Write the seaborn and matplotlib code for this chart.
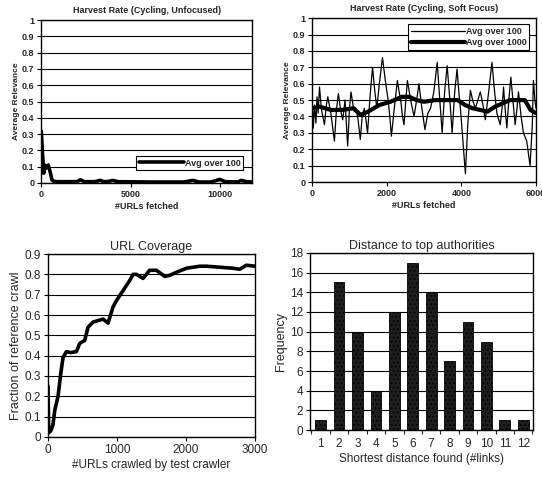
import numpy as np
import pandas as pd
import matplotlib
matplotlib.use("Agg")
import matplotlib.pyplot as plt
import seaborn as sns
from matplotlib.ticker import MultipleLocator, FixedLocator, FuncFormatter

sns.set_style("white")
plt.rcParams['font.family'] = ['Liberation Sans', 'DejaVu Sans']
plt.rcParams['hatch.color'] = '#9a9a9a'
plt.rcParams['hatch.linewidth'] = 0.7

# ---- data: top-left (Cycling, Unfocused) ----
unf_x = [0, 30, 60, 100, 140, 170, 200, 260, 330, 400, 470, 520, 600, 700, 900, 1500, 2000, 2200, 2400, 3000,
         3300, 3500, 3800, 4000, 4300, 6000, 8000, 8500, 8800, 9500, 10000, 10300, 11000, 11200, 11500, 11800]
unf_y = [0.32, 0.27, 0.2, 0.14, 0.06, 0.1, 0.11, 0.09, 0.1, 0.11, 0.08, 0.06, 0.02, 0.01, 0.008, 0.008, 0.008, 0.02, 0.008, 0.008,
         0.016, 0.008, 0.01, 0.016, 0.008, 0.006, 0.006, 0.016, 0.006, 0.006, 0.022, 0.008, 0.006, 0.016, 0.008, 0.006]

# ---- data: top-right (Cycling, Soft Focus) ----
sf100_x = [0, 30, 62, 100, 130, 160, 196, 250, 329, 380, 418, 500, 596, 650, 702, 760, 818, 880, 951, 1000, 1040,
           1100, 1173, 1230, 1289, 1340, 1396, 1440, 1484, 1550, 1618, 1680, 1733, 1800, 1884, 1960, 2036, 2080,
           2124, 2200, 2284, 2330, 2373, 2420, 2462, 2510, 2551, 2640, 2729, 2800, 2862, 2940, 3022, 3100, 3173,
           3260, 3351, 3420, 3484, 3550, 3618, 3690, 3751, 3820, 3884, 3930, 3973, 4040, 4107, 4170, 4240, 4300,
           4373, 4440, 4507, 4570, 4640, 4730, 4818, 4890, 4951, 5000, 5040, 5090, 5129, 5170, 5218, 5270, 5325,
           5380, 5440, 5490, 5529, 5600, 5662, 5750, 5840, 5900, 5929, 5970, 6000]
sf100_y = [0.5, 0.33, 0.47, 0.36, 0.52, 0.42, 0.58, 0.44, 0.35, 0.47, 0.52, 0.42, 0.25, 0.44, 0.54, 0.44, 0.38, 0.5, 0.22,
           0.45, 0.55, 0.46, 0.45, 0.38, 0.26, 0.4, 0.45, 0.38, 0.3, 0.52, 0.7, 0.55, 0.45, 0.6, 0.76, 0.62, 0.5, 0.4,
           0.28, 0.45, 0.62, 0.55, 0.5, 0.4, 0.35, 0.5, 0.62, 0.5, 0.4, 0.5, 0.6, 0.45, 0.32, 0.42, 0.45,
           0.55, 0.73, 0.5, 0.3, 0.55, 0.71, 0.5, 0.3, 0.55, 0.69, 0.55, 0.45, 0.25, 0.05, 0.35, 0.56, 0.5,
           0.45, 0.5, 0.55, 0.48, 0.38, 0.55, 0.73, 0.55, 0.42, 0.38, 0.35, 0.45, 0.58, 0.45, 0.33, 0.5, 0.64,
           0.5, 0.35, 0.45, 0.55, 0.4, 0.3, 0.25, 0.1, 0.35, 0.62, 0.5, 0.45]
sf1000_x = [0, 200, 500, 800, 1100, 1300, 1500, 1800, 2100, 2400, 2600, 2800, 3000, 3300, 3600, 3900, 4100,
            4300, 4500, 4700, 4900, 5100, 5300, 5500, 5700, 5850, 6000]
sf1000_y = [0.45, 0.46, 0.44, 0.44, 0.45, 0.41, 0.43, 0.47, 0.49, 0.52, 0.52, 0.5, 0.49, 0.5, 0.5, 0.5, 0.47,
            0.45, 0.44, 0.43, 0.46, 0.48, 0.5, 0.5, 0.5, 0.44, 0.42]

# ---- data: bottom-left (URL Coverage) ----
cov_x = [0, 10, 40, 72, 97, 145, 184, 217, 266, 330, 411, 459, 531, 580, 652, 749, 797, 870, 942, 990, 1087,
         1184, 1232, 1280, 1377, 1473, 1570, 1691, 1763, 1860, 2005, 2198, 2295, 2488, 2681, 2778, 2874, 3000]
cov_y = [0.25, 0.02, 0.03, 0.06, 0.13, 0.2, 0.31, 0.39, 0.42, 0.415, 0.42, 0.46, 0.475, 0.54, 0.565, 0.575, 0.58,
         0.56, 0.64, 0.67, 0.72, 0.77, 0.8, 0.8, 0.78, 0.82, 0.82, 0.79, 0.795, 0.81, 0.83, 0.84, 0.84, 0.835,
         0.83, 0.825, 0.845, 0.84]

# ---- data: bottom-right (Distance to top authorities) ----
dist_labels = ['1', '2', '3', '4', '5', '6', '7', '8', '9', '10', '11', '12']
dist_freq = [1, 15, 10, 4, 12, 17, 14, 7, 11, 9, 1, 1]

fig = plt.figure(figsize=(5.42, 4.79), dpi=100)
ax1 = fig.add_axes([0.076, 0.618, 0.389, 0.340])
ax2 = fig.add_axes([0.576, 0.620, 0.413, 0.342])
ax3 = fig.add_axes([0.0886, 0.0877, 0.382, 0.382])
ax4 = fig.add_axes([0.572, 0.102, 0.411, 0.370])


def fmt01(v, pos):
    if abs(v) < 1e-9:
        return '0'
    if abs(v - 1) < 1e-9:
        return '1'
    return f'{v:.1f}'


def style_ax(ax, fs, bold):
    for s in ax.spines.values():
        s.set_color('black')
        s.set_linewidth(1.0)
    ax.yaxis.grid(True, color='black', linewidth=0.8)
    ax.xaxis.grid(False)
    ax.tick_params(axis='both', direction='out', length=3, width=0.8, color='black',
                   labelsize=fs, pad=2, left=True, bottom=True)
    if bold:
        for lab in ax.get_xticklabels() + ax.get_yticklabels():
            lab.set_fontweight('bold')

# top-left
sns.lineplot(x=unf_x, y=unf_y, ax=ax1, color='black', linewidth=2.6, label='Avg over 100')
ax1.set_xlim(0, 11800)
ax1.set_ylim(0, 1)
ax1.yaxis.set_major_locator(MultipleLocator(0.1))
ax1.yaxis.set_major_formatter(FuncFormatter(fmt01))
ax1.xaxis.set_major_locator(FixedLocator([0, 5000, 10000]))
ax1.set_title('Harvest Rate (Cycling, Unfocused)', fontsize=6.5, fontweight='bold', pad=5)
ax1.set_xlabel('#URLs fetched', fontsize=6.5, fontweight='bold', labelpad=2)
ax1.set_ylabel('Average Relevance', fontsize=6, fontweight='bold', labelpad=1)
style_ax(ax1, 6.5, True)
leg = ax1.legend(loc='lower right', bbox_to_anchor=(0.98, 0.05), frameon=True, fancybox=False,
                 edgecolor='black', prop=dict(size=6.5, weight='bold'), handlelength=5,
                 borderpad=0.3, handletextpad=0.1, framealpha=1)
leg.get_frame().set_linewidth(0.8)

# top-right
sns.lineplot(x=sf100_x, y=sf100_y, ax=ax2, color='black', linewidth=0.9, label='Avg over 100')
sns.lineplot(x=sf1000_x, y=sf1000_y, ax=ax2, color='black', linewidth=3.0, label='Avg over 1000')
ax2.set_xlim(0, 6000)
ax2.set_ylim(0, 1)
ax2.yaxis.set_major_locator(MultipleLocator(0.1))
ax2.yaxis.set_major_formatter(FuncFormatter(fmt01))
ax2.xaxis.set_major_locator(FixedLocator([0, 2000, 4000, 6000]))
ax2.set_title('Harvest Rate (Cycling, Soft Focus)', fontsize=6.5, fontweight='bold', pad=5)
ax2.set_xlabel('#URLs fetched', fontsize=6.5, fontweight='bold', labelpad=2)
ax2.set_ylabel('Average Relevance', fontsize=6, fontweight='bold', labelpad=1)
style_ax(ax2, 6.5, True)
leg2 = ax2.legend(loc='upper right', bbox_to_anchor=(0.99, 0.99), frameon=True, fancybox=False,
                  edgecolor='black', prop=dict(size=6.5, weight='bold'), handlelength=6,
                  borderpad=0.3, handletextpad=0.1, labelspacing=0.2, framealpha=1)
leg2.get_frame().set_linewidth(0.8)

# bottom-left
sns.lineplot(x=cov_x, y=cov_y, ax=ax3, color='black', linewidth=2.6)
ax3.set_xlim(0, 3000)
ax3.set_ylim(0, 0.9)
ax3.yaxis.set_major_locator(MultipleLocator(0.1))
ax3.yaxis.set_major_formatter(FuncFormatter(fmt01))
ax3.xaxis.set_major_locator(FixedLocator([0, 1000, 2000, 3000]))
ax3.set_title('URL Coverage', fontsize=9, pad=3)
ax3.set_xlabel('#URLs crawled by test crawler', fontsize=8.5, labelpad=2)
ax3.set_ylabel('Fraction of reference crawl', fontsize=9, labelpad=2)
style_ax(ax3, 8.5, False)

# bottom-right
df = pd.DataFrame({'dist': dist_labels, 'freq': dist_freq})
sns.barplot(data=df, x='dist', y='freq', ax=ax4, color='#1e1e1e', width=0.58,
            edgecolor='black', linewidth=0.6, saturation=1)
for p in ax4.patches:
    p.set_hatch('....')
ax4.set_xlim(-0.58, 11.52)
ax4.set_ylim(0, 18)
ax4.yaxis.set_major_locator(MultipleLocator(2))
ax4.xaxis.set_minor_locator(FixedLocator(np.arange(-0.5, 12, 1.0)))
ax4.set_title('Distance to top authorities', fontsize=9, pad=3)
ax4.set_xlabel('Shortest distance found (#links)', fontsize=8.5, labelpad=2)
ax4.set_ylabel('Frequency', fontsize=9, labelpad=2)
style_ax(ax4, 8.5, False)
ax4.tick_params(axis='x', which='major', length=0, pad=6)
ax4.tick_params(axis='x', which='minor', length=3, width=0.8, direction='out', bottom=True)

fig.savefig('out.png', dpi=100)
